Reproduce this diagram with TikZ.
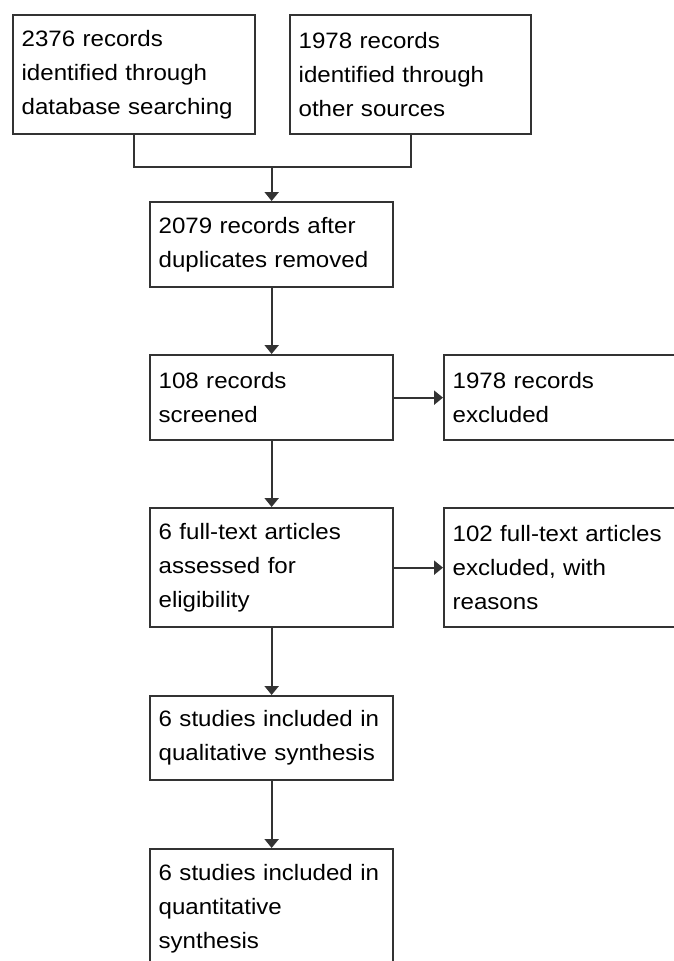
\documentclass[tikz,border=0pt]{standalone}
\usepackage{fontspec}
\setmainfont{Liberation Sans}[FakeStretch=1.08]
\usetikzlibrary{arrows.meta}
\definecolor{linecol}{HTML}{333333}
\begin{document}
\begin{tikzpicture}[x=1pt,y=-1pt,
  box/.style={draw=linecol, line width=2.3pt, anchor=north west, align=left,
    inner xsep=8.5pt, inner ysep=0pt, text=black,
    font=\fontsize{22.3}{34}\selectfont},
  wide/.style={text width=226pt},
  tall/.style={minimum height=119pt},
  short/.style={minimum height=85pt},
  conn/.style={draw=linecol, line width=2.3pt},
  arr/.style={conn, -{Triangle[length=9pt,width=14pt]}}]
\useasboundingbox[fill=white] (0,0) rectangle (673,961);

\node[box, tall, text width=225pt] (A) at (12,14) {2376 records\\identified through\\database searching};
\node[box, tall, text width=224pt] (B) at (289,14) {1978 records\\identified through\\other sources};
\node[box, short, wide] (C) at (149,201) {2079 records after\\duplicates removed};
\node[box, short, wide] (D) at (149,354) {108 records\\screened};
\node[box, short, wide] (E) at (443,354) {1978 records\\excluded};
\node[box, tall, wide] (F) at (149,507) {6 full-text articles\\assessed for\\eligibility};
\node[box, tall, wide] (G) at (443,507) {102 full-text articles\\excluded, with\\reasons};
\node[box, minimum height=84pt, wide] (H) at (149,695) {6 studies included in\\qualitative synthesis};
\node[box, tall, wide] (I) at (149,848) {6 studies included in\\quantitative\\synthesis};

\coordinate (j) at (C.north |- 0,167);
\draw[conn] (A.south) |- (j) -| (B.south);
\draw[arr] (j) -- (C.north);
\draw[arr] (C.south) -- (D.north);
\draw[arr] (D.east) -- (E.west);
\draw[arr] (D.south) -- (F.north);
\draw[arr] (F.east) -- (G.west);
\draw[arr] (F.south) -- (H.north);
\draw[arr] (H.south) -- (I.north);
\end{tikzpicture}
\end{document}
